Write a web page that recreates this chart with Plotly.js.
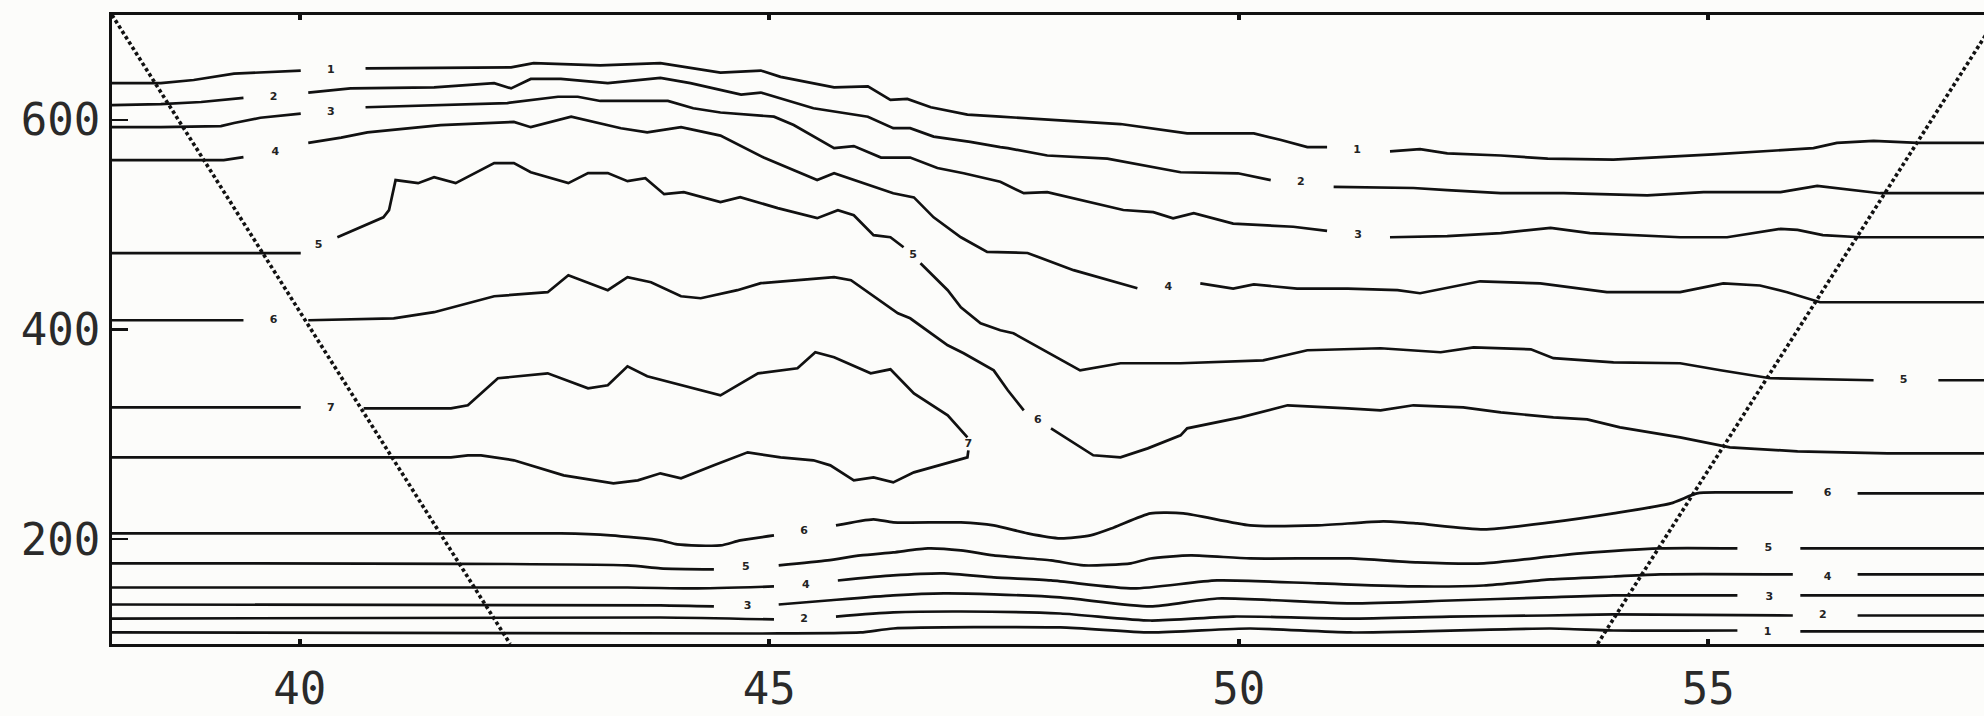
<!DOCTYPE html>
<html>
<head>
<meta charset="utf-8">
<script src="https://cdn.plot.ly/plotly-3.0.1.min.js"></script>
<style>
html,body{margin:0;padding:0;overflow:hidden;background:#fcfcfa;}
#chart{width:1990px;height:716px;}
</style>
</head>
<body>
<div id="chart"></div>
<script>
// Contour lines (upper set, labels 1..7)
var A_x = [38.0,38.52,38.87,39.30,40.01,null,40.70,42.25,42.49,43.20,43.84,44.48,44.91,45.12,45.69,46.05,46.29,46.47,46.72,47.11,47.46,47.96,48.74,49.45,50.16,50.44,50.73,50.94,null,51.61,51.93,52.22,52.79,53.29,53.99,55.05,56.12,56.37,56.76,57.23,58];
var A_y = [635,635,638,644,647,null,649,650,654,652,654,645,647,641,631,632,619,620,612,605,603,600,596,587,587,581,574,574,null,570,572,568,566,563,562,567,573,578,580,578,578];

var B_x = [38.0,38.52,38.95,39.40,null,40.09,40.54,41.43,42.07,42.25,42.46,42.78,43.28,43.84,44.16,44.70,44.91,45.47,46.05,46.32,46.50,46.75,47.14,47.46,47.54,47.96,48.60,49.38,49.99,50.34,null,51.01,51.86,52.22,52.79,53.46,54.35,54.95,55.77,56.16,56.83,58];
var B_y = [614,615,617,621,null,626,630,631,635,630,639,639,635,640,635,624,626,611,603,592,592,584,579,574,573,566,563,550,549,542.5,null,536,535,533,530,530,528,531,531,537,530,530];

var C_x = [38.0,38.52,39.16,39.30,39.58,40.01,null,40.70,41.43,42.21,42.75,42.96,43.20,43.92,44.19,44.48,45.05,45.26,45.69,45.90,46.19,46.50,46.79,47.07,47.46,47.71,47.96,48.77,49.09,49.30,49.52,49.94,50.58,50.94,null,51.61,52.22,52.79,53.32,53.74,54.28,54.70,55.20,55.77,55.95,56.22,56.62,58];
var C_y = [593,593,594,597,602,606,null,612,614,616,622,622,618,618,611,607,603,595,573,575,564,564,554,549,541,530,531,514,512,506,511,501,498,494,null,488,489,492,497,492,490,488,488,496,495,490,488,488];

var D_x = [38.0,38.52,39.19,39.40,null,40.09,40.44,40.72,41.50,42.28,42.46,42.89,43.42,43.70,44.06,44.48,44.94,45.51,45.69,46.32,46.54,46.75,47.04,47.32,47.75,48.24,48.92,null,49.59,49.94,50.16,50.62,51.16,51.69,51.93,52.22,52.57,53.21,53.92,54.70,55.16,55.55,55.84,56.19,58];
var D_y = [561.6,561.6,561.6,564.4,null,578,583,588,595,598,593,603,592,588,593,585,564,542.5,549,530,526,507,488,474,473,456.6,439.4,null,444,439,443,439,439,437.5,434.6,440,446,444,435.6,435.6,444,442,435.6,426,426];

var E_x = [38.0,40.01,null,40.40,40.89,40.95,41.02,41.26,41.43,41.66,42.07,42.28,42.46,42.86,43.07,43.28,43.49,43.68,43.88,44.09,44.48,44.69,45.09,45.51,45.73,45.90,46.11,46.29,46.43,null,46.61,46.90,47.04,47.25,47.46,47.60,48.31,48.74,49.38,50.26,50.73,51.51,52.15,52.50,53.11,53.35,53.99,54.70,55.13,55.66,56.76,null,57.45,58];
var E_y = [472.8,472.8,null,488,507,513.8,542.5,539.6,545.3,539.6,558.7,558.7,550,539.6,549.2,549.2,541.5,544.4,529.1,531,521.5,526.3,515.8,506.2,513.8,509,490,488,478.5,null,463.2,437.5,421.2,406,399.3,396.4,361,367.8,367.8,370.6,380.2,382.1,378.3,383,381.1,372.6,368.7,367.8,361.1,353.5,351.6,null,351.6,351.6];

var F_x = [38.0,39.40,null,40.09,41.00,41.43,41.79,42.07,42.64,42.86,43.28,43.49,43.74,44.06,44.27,44.66,44.91,45.69,45.87,46.37,46.50,46.90,47.07,47.39,47.54,47.71,null,48.00,48.45,48.74,49.03,49.38,49.45,50.02,50.52,51.16,51.51,51.86,52.39,52.79,53.35,53.71,54.06,54.70,55.23,55.95,56.91,58];
var F_y = [408.8,408.8,null,408.8,410.7,416.5,425,431.7,435.6,451.8,437.5,449.9,445.1,431.7,429.8,437.5,444.2,449.9,447,415.5,410.7,385,377.3,361,342,322.9,null,305.7,280,278,286.6,299,305.7,316.2,327.7,324.8,322.9,327.7,325.8,321,316.2,314.3,306.7,297.1,287.6,283.8,281.9,281.9];

var G_x = [38.0,40.01,null,40.68,41.61,41.79,41.93,42.11,42.64,43.07,43.28,43.49,43.70,44.48,44.88,45.30,45.49,45.69,46.08,46.29,46.54,46.90,47.11];
var G_y = [325.8,325.8,null,324.8,324.8,327.7,339.1,353.5,358.2,343.9,346.8,364.9,355.4,337.2,358.2,363,378.3,373.5,358.2,362,339.1,318.1,297.1];

var H_x = [38.0,40.72,41.61,41.79,41.93,42.28,42.81,43.34,43.60,43.84,44.06,44.41,44.77,45.12,45.47,45.65,45.90,46.11,46.32,46.54,47.11,47.12];
var H_y = [278,278,278,280,280,275.2,260.9,253.2,256.1,262.8,258,270.4,282.8,278,275.2,270.4,256.1,259,254.2,263.7,278,284.7];

// Contour lines (lower set, labels 6..1)
var L6_x = [38.0,42.78,43.31,43.84,44.02,44.48,44.69,45.05,null,45.71,46.11,46.32,47.04,47.39,47.75,48.10,48.42,48.67,49.06,49.41,50.12,50.84,51.54,51.90,52.61,53.32,53.99,54.60,54.88,55.13,55.90,null,56.59,58];
var L6_y = [205.5,205.5,203.6,198.8,195,194,198.8,203.6,null,213.1,218.9,216,216,213.1,205.5,200.7,203.6,211.2,224.6,224.6,213.1,213.1,217,215,209.3,216,224.6,234.1,243.7,244.6,244.6,null,243.7,243.7];

var L5_x = [38.0,43.49,43.84,44.41,null,45.10,45.62,45.97,46.32,46.69,47.04,47.39,48.00,48.35,48.85,49.06,49.49,50.12,51.19,51.90,52.61,53.32,53.64,54.49,55.31,null,55.98,58];
var L5_y = [176.9,175,172.1,171.1,null,175,179.7,184.5,187.4,191.2,189.3,184.5,179.7,175,176.9,181.6,184.5,181.6,181.6,177.8,176.9,183.5,186.4,191.2,191.2,null,191.2,191.2];

var L4_x = [38.0,43.49,44.19,45.05,null,45.73,46.32,46.86,47.39,48.00,48.88,49.77,50.84,51.90,52.61,53.32,53.99,54.49,55.90,null,56.59,58];
var L4_y = [153.9,153.9,153,154.9,null,160.6,165.4,167.3,163.5,160.6,153,160.6,157.8,154.9,155.8,161.6,164.4,166.4,166.4,null,166.4,166.4];

var L3_x = [38.0,43.84,44.41,null,45.10,45.62,46.32,46.86,47.39,48.10,49.06,49.77,51.19,52.25,53.28,53.99,55.31,null,55.98,58];
var L3_y = [137.7,136.8,135.8,null,137.7,141.5,146.3,148.2,147.3,144.4,135.8,143.4,138.7,141.5,144.4,146.3,146.3,null,146.3,146.3];

var L2_x = [38.0,43.84,45.05,null,45.71,46.32,47.04,48.10,49.06,49.94,51.19,52.25,53.28,53.99,55.90,null,56.59,58];
var L2_y = [124.3,125.3,123.4,null,126.2,130.1,131,129.1,122.4,126.2,124.3,126.2,127.2,128.2,127.2,null,127.2,127.2];

var L1_x = [38.0,44.91,45.97,46.32,48.10,49.06,50.12,51.19,53.32,53.99,55.31,null,55.98,58];
var L1_y = [111,110,111,114.8,115.8,111,114.8,111,114.8,112.9,112.9,null,112,112];

// Dotted boundary lines
var dotL_x = [38.0, 42.24];
var dotL_y = [700, 100];
var dotR_x = [53.82, 58.09];
var dotR_y = [100, 700];

// Inline contour labels
var lab_x = [40.33,51.26,39.72,50.66,40.33,51.27,39.74,49.25,40.20,46.53,57.08,39.72,47.86,40.33,47.12,45.37,56.27,44.75,55.64,45.39,56.27,44.77,55.65,45.37,56.22,55.63];
var lab_y = [647.5,571,622,540,607,490,569,440,480,471,352,409,313,325,291,208,244,173,191,156,164,136,145,124,127,111];
var lab_t = ["1","1","2","2","3","3","4","4","5","5","5","6","6","7","7","6","6","5","5","4","4","3","3","2","2","1"];

var xTicks = [40,45,50,55];
var yTicks = [200,400,600];

var INK = '#111111';
function contour(x, y, smooth){
  return {x:x, y:y, type:'scatter', mode:'lines', connectgaps:false,
    line:{color:INK, width:2.7, shape: smooth ? 'spline' : 'linear', smoothing:0.6},
    hoverinfo:'skip'};
}
var traces = [
  contour(A_x,A_y,false), contour(B_x,B_y,false), contour(C_x,C_y,false), contour(D_x,D_y,false),
  contour(E_x,E_y,false), contour(F_x,F_y,false), contour(G_x,G_y,false), contour(H_x,H_y,false),
  contour(L6_x,L6_y,true), contour(L5_x,L5_y,true), contour(L4_x,L4_y,true),
  contour(L3_x,L3_y,true), contour(L2_x,L2_y,true), contour(L1_x,L1_y,true),
  {x:dotL_x, y:dotL_y, type:'scatter', mode:'lines', line:{color:INK, width:3.6, dash:'3.5px,2.8px'}, hoverinfo:'skip'},
  {x:dotR_x, y:dotR_y, type:'scatter', mode:'lines', line:{color:INK, width:3.6, dash:'3.5px,2.8px'}, hoverinfo:'skip'},
  {x:lab_x, y:lab_y, text:lab_t, type:'scatter', mode:'text', textposition:'middle center',
    textfont:{family:'DejaVu Sans', size:11, color:'#222', weight:'bold'}, hoverinfo:'skip'}
];

var tickFont = {family:'DejaVu Sans Mono', size:44, color:'#2a2a2a'};
var layout = {
  width:1990, height:716,
  margin:{l:112, r:0, t:15, b:72, pad:0},
  paper_bgcolor:'#fcfcfa', plot_bgcolor:'#fcfcfa',
  showlegend:false, hovermode:false,
  xaxis:{range:[38,58], tickvals:xTicks, ticktext:xTicks.map(String), ticks:'inside', ticklen:5, tickwidth:4,
    tickcolor:INK, showline:true, linewidth:3, linecolor:INK, mirror:'ticks', showgrid:false, zeroline:false,
    tickfont:tickFont, ticklabelstandoff:4, fixedrange:true},
  yaxis:{range:[100,700], tickvals:yTicks, ticktext:yTicks.map(String), ticks:'inside', ticklen:16, tickwidth:2.5,
    tickcolor:INK, showline:true, linewidth:3, linecolor:INK, mirror:true, showgrid:false, zeroline:false,
    tickfont:tickFont, ticklabelstandoff:0, fixedrange:true}
};
Plotly.newPlot('chart', traces, layout, {staticPlot:true, displayModeBar:false});
</script>
</body>
</html>
